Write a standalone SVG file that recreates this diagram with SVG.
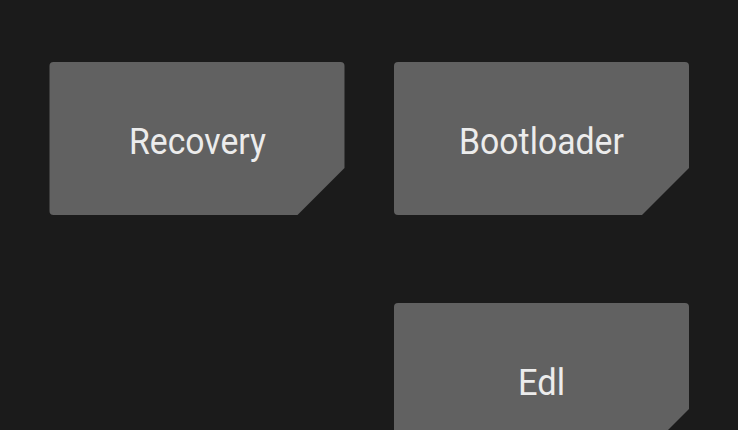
<svg xmlns="http://www.w3.org/2000/svg" width="738" height="430" viewBox="0 0 738 430">
<style>
.btn{fill:#616161}
.lbl{font-family:Roboto,"Liberation Sans",sans-serif;font-size:37px;fill:#ececec;text-anchor:middle}
</style>
<defs>
<path id="shape" d="M4,0 H291 Q295,0 295,4 V106 L248,153 H4 Q0,153 0,149 V4 Q0,0 4,0 Z"/>
</defs>
<rect width="738" height="430" fill="#1b1b1b"/>
<g id="connectors"/>
<g id="recovery">
<use href="#shape" class="btn" x="49.5" y="62"/>
<text class="lbl" x="197.5" y="154" textLength="137" lengthAdjust="spacingAndGlyphs">Recovery</text>
</g>
<g id="bootloader">
<use href="#shape" class="btn" x="394" y="62"/>
<text class="lbl" x="541.5" y="153.5" textLength="165" lengthAdjust="spacingAndGlyphs">Bootloader</text>
</g>
<g id="edl">
<use href="#shape" class="btn" x="394" y="303"/>
<text class="lbl" x="541.5" y="395" textLength="47" lengthAdjust="spacingAndGlyphs">Edl</text>
</g>
</svg>
